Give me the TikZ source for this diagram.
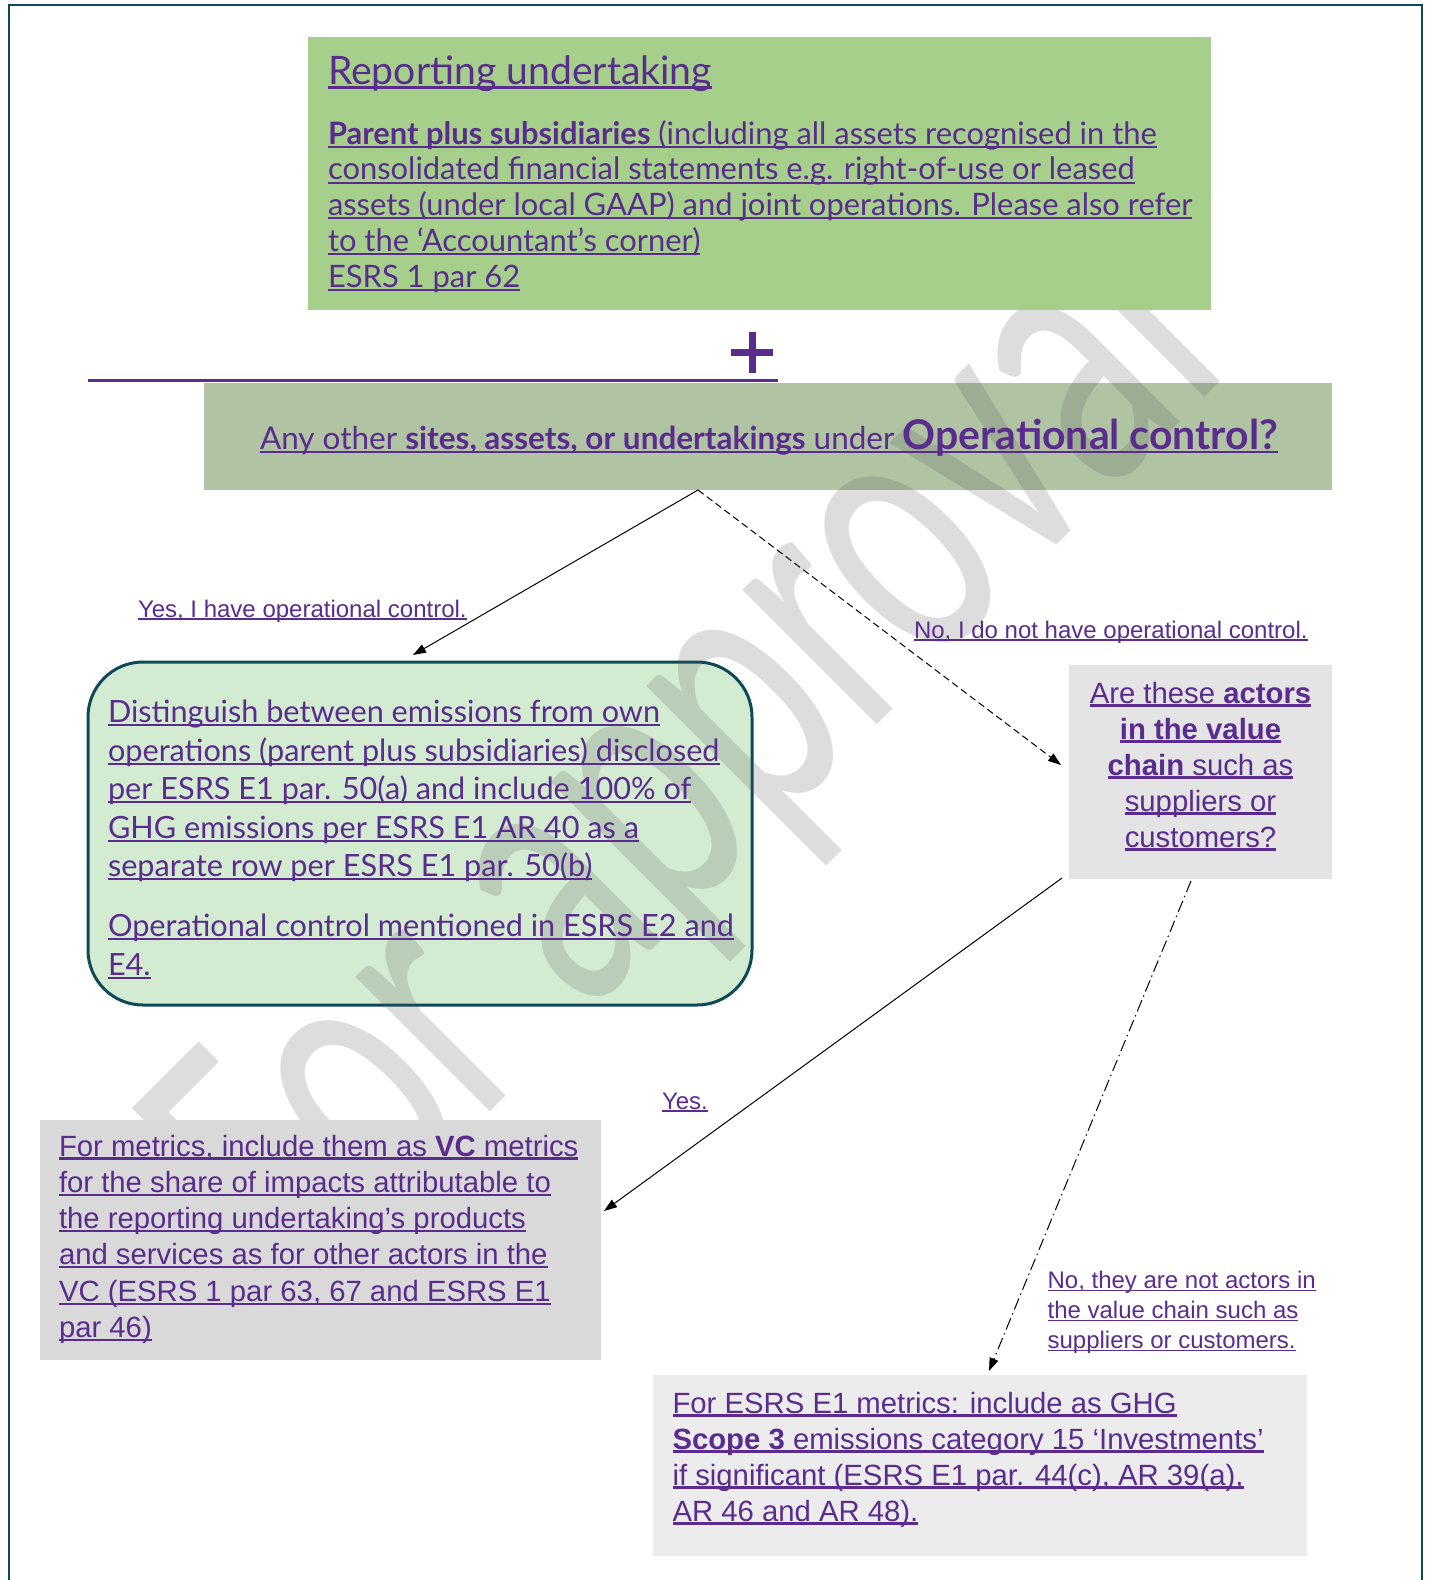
\documentclass[tikz,border=0pt]{standalone}
\usepackage{fontspec}
\setmainfont{Liberation Sans}
\newfontfamily\avn{Lato}
\newfontfamily\wmfont{Carlito}
\usetikzlibrary{arrows.meta}
\definecolor{purp}{RGB}{90,44,142}
\definecolor{framec}{RGB}{13,73,89}
\definecolor{topgreen}{RGB}{165,207,139}
\definecolor{sage}{RGB}{176,196,164}
\definecolor{ownfill}{RGB}{211,236,209}
\definecolor{qfill}{RGB}{228,228,228}
\definecolor{vcfill}{RGB}{217,217,217}
\definecolor{sfill}{RGB}{236,236,236}
\pgfdeclarelayer{bg}\pgfdeclarelayer{wm}\pgfdeclarelayer{fg}
\pgfsetlayers{bg,wm,fg,main}
\newdimen\calw
\newsavebox\calbox
\newcommand\UL[1]{\begingroup\setbox0\hbox{#1}\dimen0=\wd0\rlap{\box0}\rule[-0.12em]{\dimen0}{0.07em}\endgroup}
\newcommand\calib[3]{\sbox\calbox{\avn\fontsize{10}{12}\selectfont #2}\global\calw=\wd\calbox\pgfmathsetmacro#3{10*#1/\calw}}
\tikzset{
  box/.style={inner sep=0pt, outer sep=0pt, anchor=north west, draw=none},
  txt/.style={inner sep=0pt, outer sep=0pt, text=purp, align=left},
  arr/.style={line width=1pt, -{Triangle[length=13pt,width=9pt]}},
}
\begin{document}
\calib{846}{\textbf{Parent plus subsidiaries} (including all assets recognised in the}{\sPa}%
\calib{798}{consolidated financial statements e.g. right-of-use or leased}{\sPb}%
\calib{856}{assets (under local GAAP) and joint operations. Please also refer}{\sPc}%
\pgfmathsetmacro\sP{(\sPa+\sPb+\sPc)/3}%
\calib{384}{Reporting undertaking}{\sR}%
\calib{620}{operations (parent plus subsidiaries) disclosed}{\sDa}%
\calib{624}{Operational control mentioned in ESRS E2 and}{\sDb}%
\calib{546}{Distinguish between emissions from own}{\sDc}%
\pgfmathsetmacro\sD{(\sDa+\sDb+\sDc)/3}%
\calib{1018}{Any other \textbf{sites, assets, or undertakings} under {\fontsize{13}{12}\selectfont\textbf{Operational control?}}}{\sO}%
\pgfmathsetmacro\sOb{1.3*\sO}%
\begin{tikzpicture}[x=1pt,y=-1pt]
\useasboundingbox (0,0) rectangle (1429,1580);

% frame
\draw[framec, line width=2.5pt] (9,1600) -- (9,5) -- (1422,5) -- (1422,1600);

% boxes below the watermark
\begin{pgfonlayer}{bg}
\node[box, fill=sage, minimum width=1128pt, minimum height=107pt] (opq) at (204,383) {};
\node[box, fill=ownfill, draw=framec, line width=3pt, rounded corners=55pt, minimum width=664pt, minimum height=343pt] (own) at (88,662) {};
\node[box, fill=qfill, minimum width=263pt, minimum height=214pt] (vc) at (1069,665) {};
\node[box, fill=sfill, minimum width=654pt, minimum height=181pt] (s3) at (653,1375) {};
\end{pgfonlayer}

% watermark
\begin{pgfonlayer}{wm}
\node[inner sep=0pt, anchor=base west, rotate=45, xscale=0.653, text=black!67, text opacity=0.2,
      font=\wmfont\fontsize{398}{400}\selectfont] (wmk) at (300,1302) {For approval};
\end{pgfonlayer}

% boxes above the watermark
\begin{pgfonlayer}{fg}
\node[box, fill=topgreen, minimum width=903pt, minimum height=273pt] (top) at (308,37) {};
\node[box, fill=vcfill, minimum width=561pt, minimum height=240pt] (vcm) at (40,1120) {};
\end{pgfonlayer}

% plus sign and purple line
\fill[purp] (731,348.5) rectangle (773,355.5);
\fill[purp] (748.5,332) rectangle (755.5,373);
\draw[purp, line width=3pt] (88,380) -- (778,380);

% texts
\node[txt, anchor=base west, font=\avn\fontsize{\sR}{40}\selectfont] (topT) at (328,84) {\UL{Reporting undertaking}};
\node[txt, anchor=north west, font=\avn\fontsize{\sP}{35.7}\selectfont] (topP) at (328,119.3) {%
\strut\UL{\textbf{Parent plus subsidiaries} (including all assets recognised in the}\\
\UL{consolidated financial statements e.g. right-of-use or leased}\\
\UL{assets (under local GAAP) and joint operations. Please also refer}\\
\UL{to the ‘Accountant’s corner)}\\
\UL{ESRS 1 par 62}};

\node[txt, anchor=base west, font=\avn\fontsize{\sO}{30}\selectfont] (opqT) at (260,449) {%
\UL{Any other \textbf{sites, assets, or undertakings} under {\fontsize{\sOb}{30}\selectfont\textbf{Operational control?}}}};

\node[txt, anchor=north west, font=\avn\fontsize{\sD}{38.5}\selectfont] (ownT) at (108,695.75) {%
\strut\UL{Distinguish between emissions from own}\\
\UL{operations (parent plus subsidiaries) disclosed}\\
\UL{per ESRS E1 par. 50(a) and include 100\% of}\\
\UL{GHG emissions per ESRS E1 AR 40 as a}\\
\UL{separate row per ESRS E1 par. 50(b)}\\[21.5pt]
\UL{Operational control mentioned in ESRS E2 and}\\
\UL{E4.}};

\node[txt, align=center, anchor=north, font=\fontsize{29.3}{36}\selectfont] (vcT) at (1200.5,677.8) {%
\strut\UL{Are these \textbf{actors}}\\
\UL{\textbf{in the value}}\\
\UL{\textbf{chain} such as}\\
\UL{suppliers or}\\
\UL{customers?}};

\node[txt, anchor=north west, font=\fontsize{29.3}{36.3}\selectfont] (vcmT) at (59,1130.6) {%
\strut\UL{For metrics, include them as \textbf{VC} metrics}\\
\UL{for the share of impacts attributable to}\\
\UL{the reporting undertaking’s products}\\
\UL{and services as for other actors in the}\\
\UL{VC (ESRS 1 par 63, 67 and ESRS E1}\\
\UL{par 46)}};

\node[txt, anchor=north west, font=\fontsize{29.3}{36}\selectfont] (s3T) at (672.5,1387.8) {%
\strut\UL{For ESRS E1 metrics: include as GHG}\\
\UL{\textbf{Scope 3} emissions category 15 ‘Investments’}\\
\UL{if significant (ESRS E1 par. 44(c), AR 39(a),}\\
\UL{AR 46 and AR 48).}};

% labels
\node[txt, anchor=base west, font=\fontsize{24}{30}\selectfont] (l1) at (138,617) {\UL{Yes, I have operational control.}};
\node[txt, anchor=base west, font=\fontsize{24}{30}\selectfont] (l2) at (914,638) {\UL{No, I do not have operational control.}};
\node[txt, anchor=base west, font=\fontsize{24}{30}\selectfont] (l3) at (662,1109) {\UL{Yes.}};
\node[txt, anchor=north west, font=\fontsize{24}{30}\selectfont] (l4) at (1047.6,1267.3) {%
\strut\UL{No, they are not actors in}\\
\UL{the value chain such as}\\
\UL{suppliers or customers.}};

% connectors
\draw[arr] ([xshift=-70pt]opq.south) -- ([xshift=-7pt,yshift=7pt]own.north);
\draw[arr, dash pattern=on 7pt off 4pt] ([xshift=-70pt]opq.south) -- ([xshift=-8pt,yshift=7pt]vc.west);
\draw[arr] ([xshift=-7pt,yshift=1pt]vc.south west) -- ([xshift=3pt,yshift=29pt]vcm.east);
\draw[arr, dash pattern=on 12pt off 4pt on 1.5pt off 4pt] ([xshift=-9.5pt,yshift=-2pt]vc.south) -- ([xshift=9pt,yshift=4pt]s3.north);
\end{tikzpicture}
\end{document}
